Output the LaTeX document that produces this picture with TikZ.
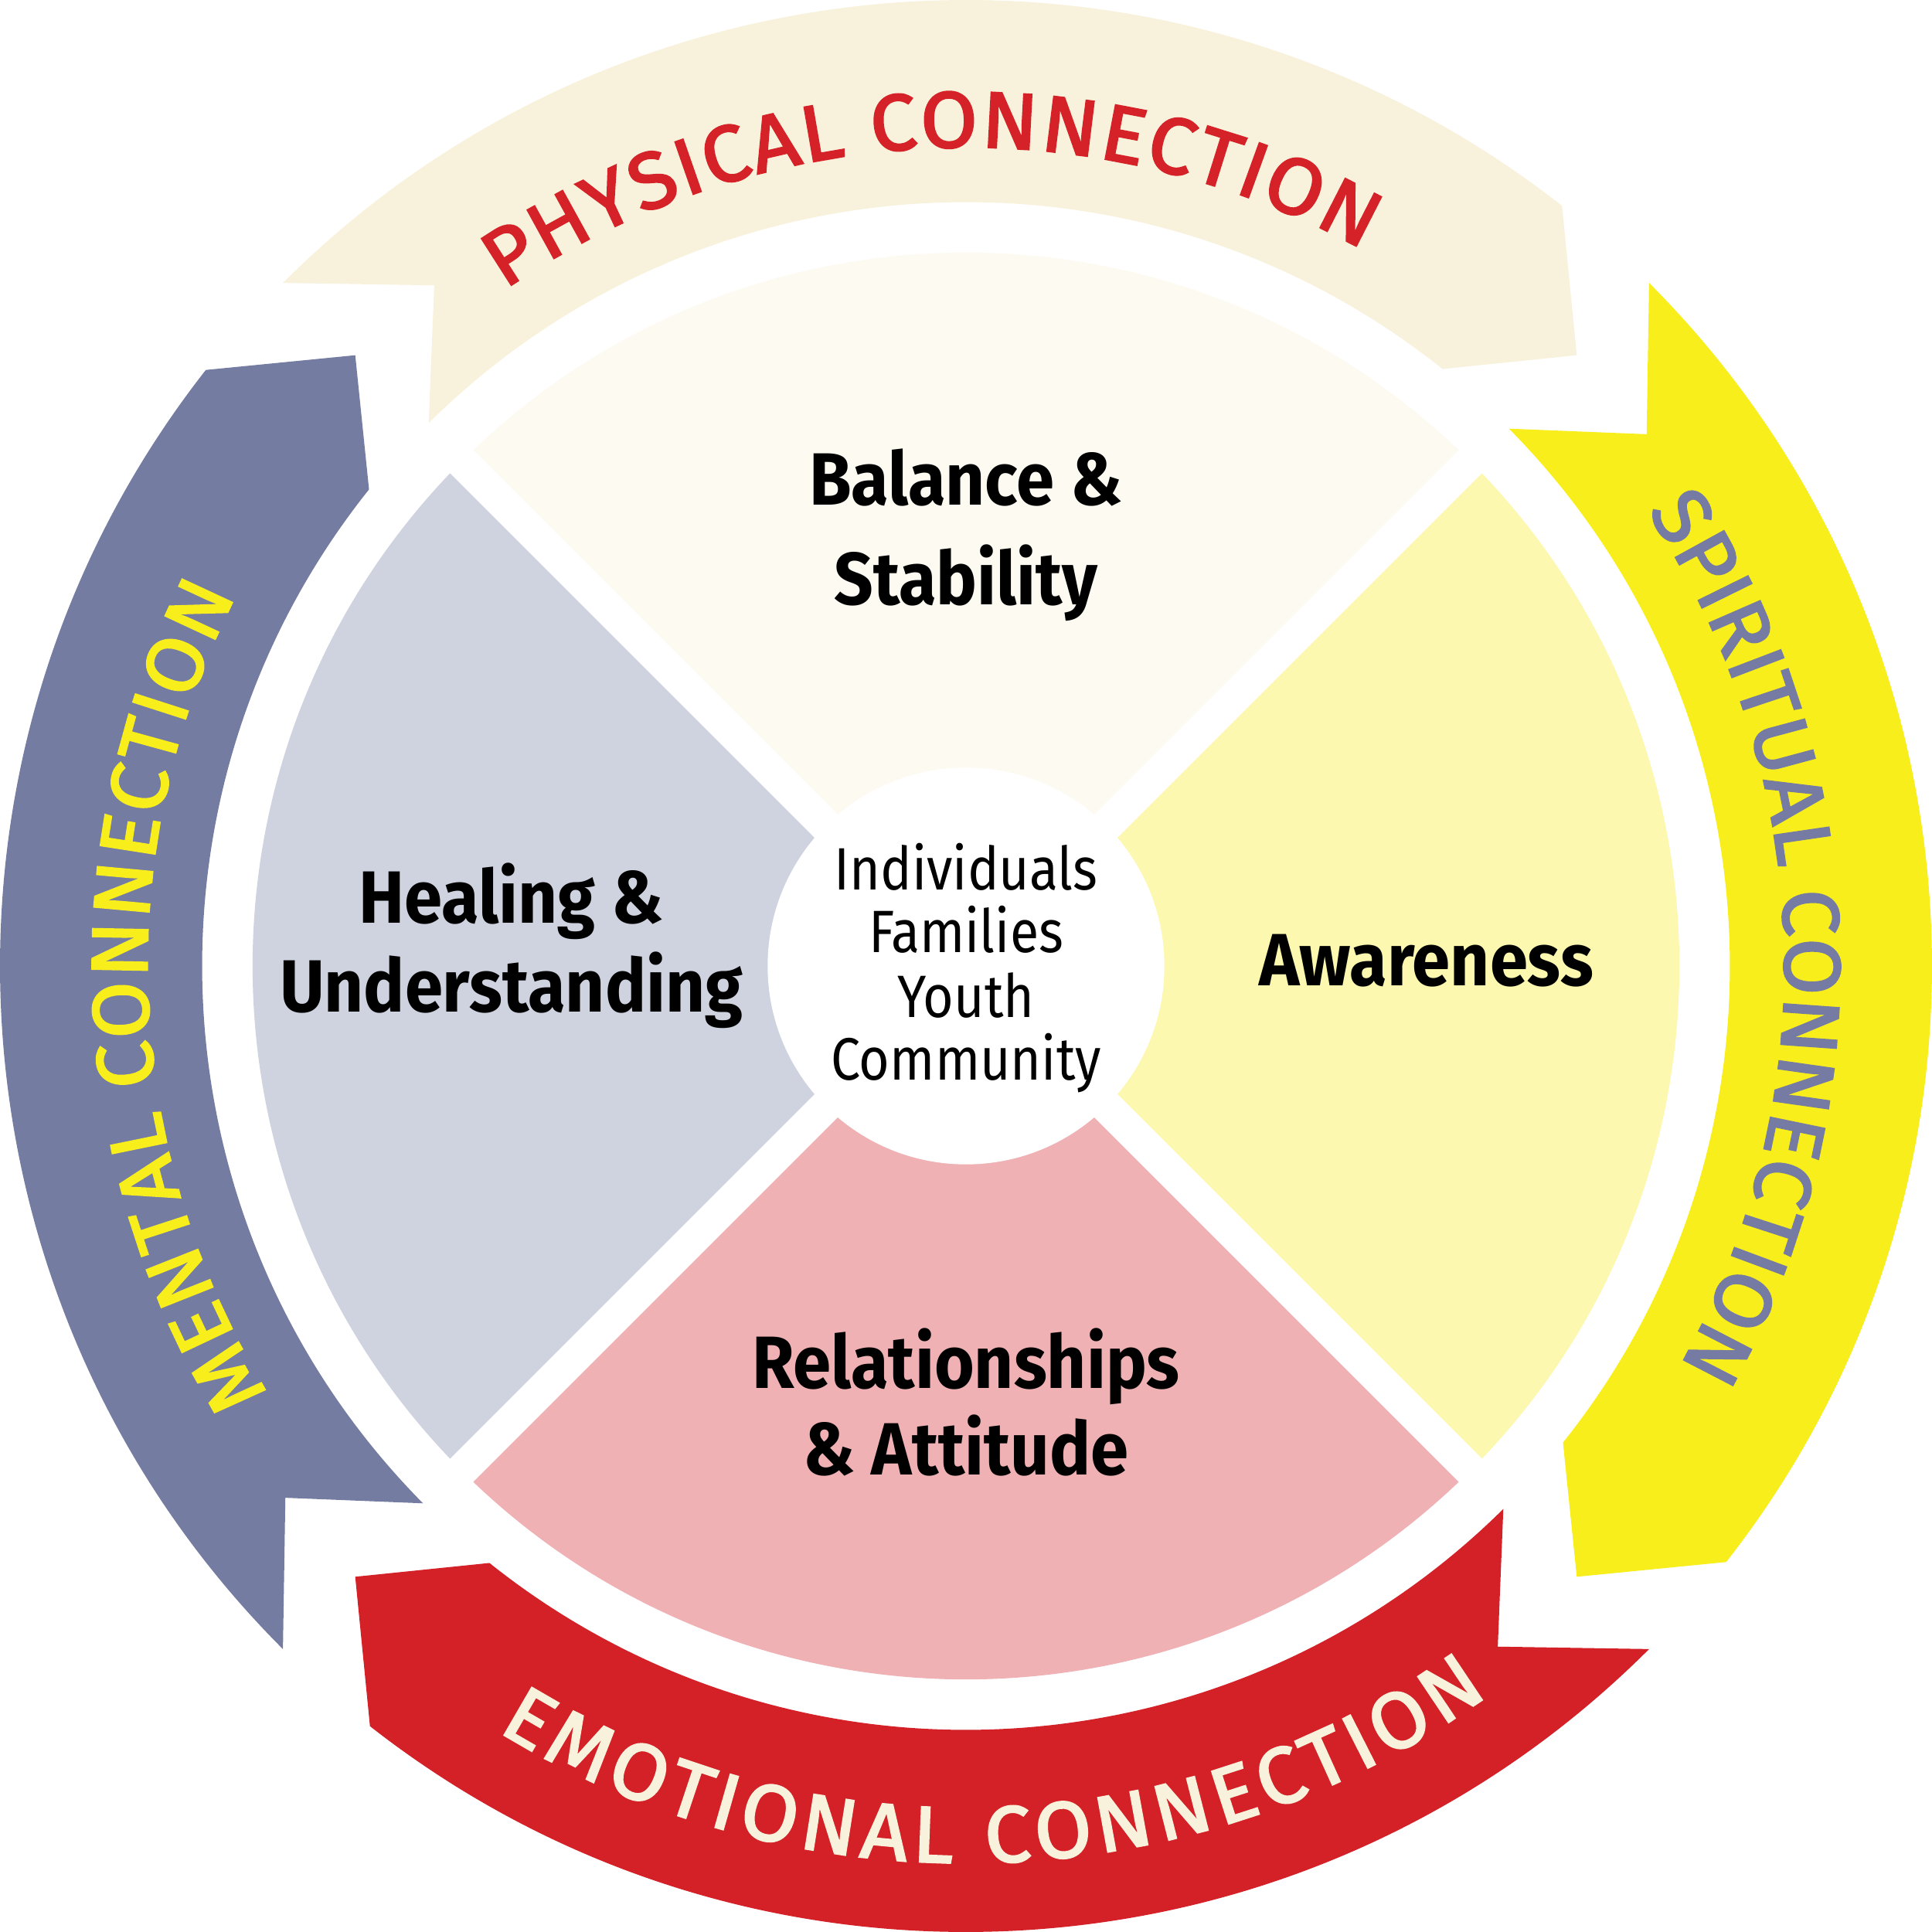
\documentclass[tikz,border=0pt]{standalone}
\usepackage{fontspec}
\setmainfont{Fira Sans}
\newfontfamily\arcfam[FakeBold=2.4,FakeStretch=1.04]{Fira Sans}
\newfontfamily\labfam[FakeStretch=0.925]{Fira Sans}
\newfontfamily\ctrfam[FakeStretch=0.88]{Fira Sans}
\usetikzlibrary{decorations.text}
\definecolor{physfill}{HTML}{F8F2DC}
\definecolor{phystext}{HTML}{D52128}
\definecolor{spirfill}{HTML}{F8EE1C}
\definecolor{spirtext}{HTML}{757BA3}
\definecolor{emofill}{HTML}{D42027}
\definecolor{emotext}{HTML}{F8F2DC}
\definecolor{mentfill}{HTML}{757CA1}
\definecolor{menttext}{HTML}{F8EE1C}
\definecolor{topsec}{HTML}{FDFAF1}
\definecolor{rightsec}{HTML}{FCF8B0}
\definecolor{botsec}{HTML}{F0B1B4}
\definecolor{leftsec}{HTML}{CFD3E0}
\newcommand\arcfnt{\arcfam\fontsize{18.4}{20}\selectfont}
\newcommand\ringarrow[2]{%
  \fill[#2] (#1:7.84) arc[start angle=#1, end angle=#1-83.1, radius=7.84]
    -- ({#1-90}:7.01) -- ({#1-83.6}:6.20)
    arc[start angle=#1-83.6, end angle=#1-0.3, radius=6.20]
    -- ({#1-7}:7.01) -- cycle;}
\tikzset{
  lab/.style={font=\labfam\fontsize{17.1}{20}\selectfont\bfseries, anchor=base, inner sep=0pt, text=black},
  ctr/.style={font=\ctrfam\fontsize{13.8}{16}\selectfont, anchor=base, inner sep=0pt, text=black},
  gap/.style={white, line width=0.266cm}
}
\begin{document}
\begin{tikzpicture}
\useasboundingbox (-7.84,-7.84) rectangle (7.84,7.84);
% outer arrows
\ringarrow{135}{physfill}
\ringarrow{45}{spirfill}
\ringarrow{-45}{emofill}
\ringarrow{-135}{mentfill}
% sectors
\fill[topsec] (0,0) -- (45:5.79) arc[start angle=45, end angle=135, radius=5.79] -- cycle;
\fill[leftsec] (0,0) -- (135:5.79) arc[start angle=135, end angle=225, radius=5.79] -- cycle;
\fill[botsec] (0,0) -- (225:5.79) arc[start angle=225, end angle=315, radius=5.79] -- cycle;
\fill[rightsec] (0,0) -- (-45:5.79) arc[start angle=-45, end angle=45, radius=5.79] -- cycle;
\draw[gap] (45:6) -- (225:6);
\draw[gap] (135:6) -- (315:6);
\fill[white] (0,0) circle[radius=1.61];
% arc texts
\path[decorate, decoration={text along path, text color=phystext, text align=fit to path,
  text={|\arcfnt|PHYSICAL CONNECTION}}]
  (124.3:6.645) arc[start angle=124.3, end angle=61.0, radius=6.645];
\path[decorate, decoration={text along path, text color=spirtext, text align=fit to path,
  text={|\arcfnt|SPIRITUAL CONNECTION}}]
  (33.7:6.645) arc[start angle=33.7, end angle=-29.3, radius=6.645];
\path[decorate, decoration={text along path, text color=menttext, text align=fit to path,
  text={|\arcfnt|MENTAL CONNECTION}}]
  (211.5:6.645) arc[start angle=211.5, end angle=153.1, radius=6.645];
\path[decorate, decoration={text along path, text color=emotext, text align=fit to path,
  text={|\arcfnt|EMOTIONAL CONNECTION}}]
  (238.5:7.28) arc[start angle=238.5, end angle=305.6, radius=7.28];
% sector labels
\node[lab] (bal) at (0,3.738) {Balance \&};
\node[lab] (stab) at (0,2.935) {Stability};
\node[lab] (heal) at (-3.69,0.345) {Healing \&};
\node[lab] (und) at (-3.69,-0.376) {Understanding};
\node[lab] (aware) at (3.735,-0.16) {Awareness};
\node[lab] (rel) at (0,-3.43) {Relationships};
\node[lab] (att) at (0,-4.13) {\& Attitude};
% center
\node[ctr] (ind) at (0,0.618) {Individuals};
\node[ctr] (fam) at (0,0.107) {Families};
\node[ctr] (you) at (0,-0.414) {Youth};
\node[ctr] (com) at (0,-0.922) {Community};
\end{tikzpicture}
\end{document}
